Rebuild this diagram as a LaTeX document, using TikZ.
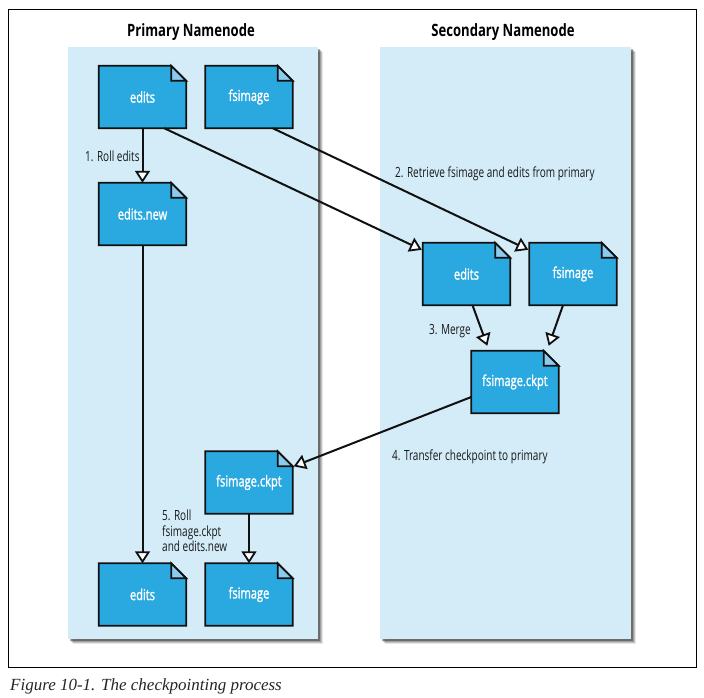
\documentclass[tikz,border=0pt]{standalone}
\usepackage{fontspec}
\setmainfont[FakeStretch=0.715]{Open Sans}
\newfontfamily\capfont{Liberation Serif}
\newfontfamily\docfont[FakeStretch=0.74,FakeBold=1.4]{Open Sans}
\newfontfamily\headfont[FakeStretch=0.77]{Open Sans}
\usetikzlibrary{arrows.meta,backgrounds,calc}
\definecolor{panelblue}{HTML}{D3ECF8}
\definecolor{docblue}{HTML}{29A9E0}
\definecolor{foldblue}{HTML}{8ACBEE}
\definecolor{inkline}{HTML}{111111}
\tikzset{
  x=1pt,y=-1pt,
  docbox/.style={minimum width=87pt,minimum height=62pt,inner sep=0pt,text=white,font=\docfont\fontsize{15}{17}\selectfont},
  docline/.style={draw=inkline,line width=1.8pt,line join=miter},
  flow/.style={draw=inkline,line width=2pt,-{Triangle[open,fill=white,length=12pt,width=15pt,line width=1.8pt]}},
  steplabel/.style={inner sep=0pt,text=black!90,font=\fontsize{14}{16}\selectfont,align=left},
  headlabel/.style={inner sep=0pt,text=black,font=\headfont\bfseries\fontsize{17}{19}\selectfont},
  panelbox/.style={fill=panelblue,draw=none}
}
\newcommand{\docnode}[4]{%
  \node[docbox] (#1) at (#2,#3) {#4};
  \begin{scope}[on background layer]
    \path[docline,fill=docblue] (#1.north west) -- ($(#1.north east)+(-15,0)$) -- ($(#1.north east)+(0,15)$) -- (#1.south east) -- (#1.south west) -- cycle;
    \path[docline,fill=foldblue] ($(#1.north east)+(-15,0)$) -- ($(#1.north east)+(-15,15)$) -- ($(#1.north east)+(0,15)$) -- cycle;
  \end{scope}}
\newcommand{\panelshape}[3]{%
  \foreach \o/\a in {5/0.10,4/0.14,3/0.2,2/0.3}{
    \fill[black,opacity=\a] (#1+\o,#2+\o) rectangle (#3+\o,639+\o);
  }
  \fill[panelblue] (#1,#2) rectangle (#3,639);}
\begin{document}
\begin{tikzpicture}
\useasboundingbox (0,0) rectangle (704,698);
\begin{scope}[on background layer]
  \fill[white] (0,0) rectangle (704,698);
  \draw[black,line width=0.8pt] (8.5,9.5) rectangle (696.5,667.5);
  \panelshape{68}{47}{318}
  \panelshape{380}{47}{631}
\end{scope}
\node[headlabel] (primary) at (191,32.5) {Primary Namenode};
\node[headlabel] (secondary) at (503,32.5) {Secondary Namenode};
\docnode{pedits}{142.5}{97}{edits}
\docnode{pfsimage}{249}{97}{fsimage}
\docnode{peditsnew}{142.5}{214}{edits.new}
\docnode{sedits}{466.5}{274}{edits}
\docnode{sfsimage}{573}{274}{fsimage}
\docnode{sckpt}{515}{382}{fsimage.ckpt}
\docnode{pckpt}{249}{482.5}{fsimage.ckpt}
\docnode{pedits2}{142.5}{594.5}{edits}
\docnode{pfsimage2}{249}{594.5}{fsimage}
\draw[flow] (pedits.south) -- (peditsnew.north);
\draw[flow] (peditsnew.south) -- (pedits2.north);
\draw[flow] (pckpt.south) -- (pfsimage2.north);
\draw[flow] ($(pedits.south east)+(-22,0)$) -- ($(sedits.north west)+(-1,7)$);
\draw[flow] ($(pfsimage.south east)+(-20,0)$) -- ($(sfsimage.north west)+(-1,7)$);
\draw[flow] ($(sedits.south)+(6,0)$) -- ($(sckpt.north west)+(16,-5)$);
\draw[flow] ($(sfsimage.south)+(-10,0)$) -- ($(sckpt.north east)+(-10,-5)$);
\draw[flow] (sckpt.west |- 0,397) -- ($(pckpt.north east)+(1,15)$);
\node[steplabel,anchor=west] (s1) at (85,156.5) {1. Roll edits};
\node[steplabel,anchor=west] (s2) at (395,174) {2. Retrieve fsimage and edits from primary};
\node[steplabel,anchor=west] (s3) at (429,331.5) {3. Merge};
\node[steplabel,anchor=west] (s4) at (392,456.5) {4. Transfer checkpoint to primary};
\node[steplabel,anchor=north west,font=\fontsize{14}{15.5}\selectfont] (s5) at (162,510) {5. Roll\\fsimage.ckpt\\and edits.new};
\node[anchor=west,inner sep=0pt,font=\capfont\itshape\fontsize{17}{20}\selectfont,text=black!85] (cap) at (10,686.5) {Figure 10-1. The checkpointing process};
\end{tikzpicture}
\end{document}
